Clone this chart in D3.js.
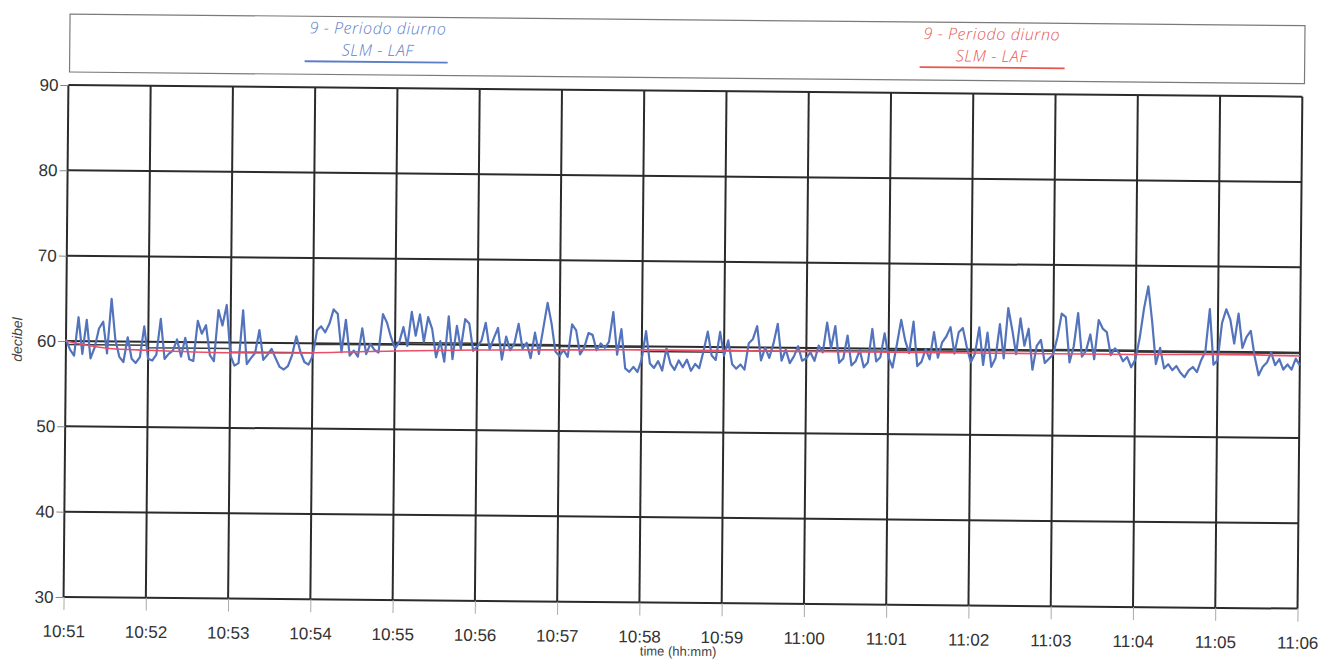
<!DOCTYPE html>
<html>
<head>
<meta charset="utf-8">
<script src="https://cdn.jsdelivr.net/npm/d3@7"></script>
<style>
  body { margin: 0; background: #fff; }
  svg { display: block; }
</style>
</head>
<body>
<script>
// SLM - LAF, one value every 3 s from 10:51:00 to 11:06:00 (one row per minute)
var blueLAF = [
  60.2, 59.0, 58.3, 62.8, 58.5, 62.5, 58.0, 59.3, 61.5, 62.3, 58.6, 65.0, 60.2, 58.2, 57.6, 60.5, 58.0, 57.5, 58.2, 61.8,
  58.0, 57.8, 58.5, 62.7, 58.0, 58.6, 59.0, 60.3, 58.3, 60.5, 58.0, 57.8, 62.5, 61.0, 62.0, 58.5, 57.8, 63.8, 62.0, 64.4,
  58.5, 57.3, 57.6, 63.8, 57.5, 58.2, 58.8, 61.5, 58.0, 58.6, 59.3, 58.2, 57.2, 56.9, 57.3, 58.6, 60.8, 59.0, 57.8, 57.5,
  58.5, 61.5, 62.0, 61.3, 62.3, 64.0, 63.5, 59.0, 62.8, 58.6, 59.2, 58.5, 61.8, 58.8, 60.0, 59.3, 59.0, 63.5, 62.5, 60.8,
  59.5, 60.2, 62.0, 59.8, 63.8, 61.0, 63.5, 60.3, 63.2, 61.8, 58.5, 60.4, 58.0, 63.3, 58.3, 62.2, 59.5, 63.0, 62.5, 59.3,
  59.8, 60.5, 62.6, 59.5, 60.8, 62.0, 58.3, 61.0, 59.4, 60.2, 62.5, 59.6, 60.3, 58.5, 61.5, 59.0, 62.0, 65.0, 62.6, 59.3,
  58.8, 59.5, 58.7, 62.5, 61.8, 59.0, 59.8, 61.5, 61.3, 59.5, 60.3, 59.8, 60.5, 64.0, 59.0, 62.0, 57.4, 57.0, 57.6, 57.0,
  58.5, 61.8, 58.0, 57.5, 58.3, 57.2, 59.8, 58.0, 57.3, 58.4, 57.6, 58.5, 57.2, 58.0, 57.5, 59.5, 61.8, 59.0, 58.5, 61.8,
  59.0, 60.8, 58.0, 57.5, 58.0, 57.4, 60.5, 61.0, 62.5, 58.5, 60.0, 58.8, 60.5, 62.8, 58.5, 59.8, 58.2, 59.0, 60.2, 58.5,
  58.8, 59.5, 58.5, 60.3, 59.5, 63.0, 60.0, 62.6, 58.3, 58.8, 61.5, 58.0, 58.5, 59.8, 57.8, 58.4, 62.3, 58.5, 59.0, 61.8,
  59.0, 57.8, 60.5, 63.4, 61.0, 59.5, 63.2, 58.0, 58.5, 60.0, 58.8, 62.0, 59.0, 60.8, 61.5, 62.6, 59.5, 62.0, 62.5, 60.3,
  58.5, 59.5, 62.6, 58.2, 62.0, 58.0, 59.0, 63.0, 59.0, 64.9, 62.4, 59.5, 63.7, 60.5, 62.5, 57.7, 60.5, 61.2, 58.5, 59.0,
  59.5, 61.5, 64.3, 63.9, 58.6, 60.5, 64.4, 59.3, 60.0, 61.9, 59.0, 63.6, 62.6, 62.2, 59.5, 60.3, 59.8, 58.8, 59.3, 58.1,
  59.0, 61.5, 65.0, 67.6, 63.5, 58.5, 60.4, 58.0, 58.5, 57.8, 58.3, 57.5, 57.0, 57.8, 58.2, 57.6, 59.0, 60.0, 65.0, 58.5,
  59.0, 63.4, 65.0, 63.8, 61.0, 64.5, 60.5, 61.8, 62.5, 59.5, 57.3, 58.3, 58.8, 60.0, 58.5, 59.2, 58.0, 58.6, 58.0, 59.3,
  58.5
];

// running level (red), minutes after 10:51
var redMinutes = [0, 0.5, 1, 2, 3, 4, 5, 6, 7, 8, 9, 10, 11, 12, 13, 14, 15];
var redLevel   = [60.0, 59.2, 59.0, 58.8, 58.9, 59.2, 59.4, 59.5, 59.6, 59.6, 59.6, 59.6, 59.6, 59.6, 59.6, 59.7, 59.6];

// per-minute level (black step), 10:51 ... 11:06
var blackLevel = [59.6, 59.3, 58.9, 59.9, 60.2, 60.1, 59.9, 59.4, 59.6, 59.7, 59.8, 59.9, 60.1, 59.9, 59.9, 59.9];

var yTicks = [30, 40, 50, 60, 70, 80, 90];
var legendTitle = '9 - Periodo diurno';
var legendSeries = 'SLM - LAF';

var start = new Date(2020, 0, 1, 10, 51, 0);
var end = new Date(2020, 0, 1, 11, 6, 0);

var x = d3.scaleTime().domain([start, end]).range([66, 1300]);
var y = d3.scaleLinear().domain([30, 90]).range([597, 85]);

var svg = d3.select('body')
    .append('svg')
    .attr('width', 1322)
    .attr('height', 663);

// the scan is slightly tilted
var g = svg.append('g')
    .attr('transform', 'rotate(0.54, 66, 340)');

// legend box
g.append('rect')
    .attr('x', 67).attr('y', 14)
    .attr('width', 1235).attr('height', 58)
    .attr('fill', 'none')
    .attr('stroke', '#7a7a7a')
    .attr('stroke-width', 1.2);

var legend = [
    {cx: 375, color: '#5b7cc6', x1: 302, x2: 445},
    {cx: 989, color: '#e8574f', x1: 917, x2: 1062}
];
legend.forEach(function(l) {
    [[legendTitle, 31], [legendSeries, 53]].forEach(function(t) {
        g.append('text')
            .attr('x', l.cx).attr('y', t[1])
            .attr('font-family', 'Open Sans')
            .attr('font-style', 'italic')
            .attr('font-weight', 300)
            .attr('font-size', 16)
            .attr('letter-spacing', 0.6)
            .attr('fill', l.color)
            .style('text-anchor', 'middle')
            .text(t[0]);
    });
    g.append('line')
        .attr('x1', l.x1).attr('x2', l.x2)
        .attr('y1', 59).attr('y2', 59)
        .attr('stroke', l.color)
        .attr('stroke-width', 1.8);
});

// grid
var minutes = d3.timeMinute.range(start, d3.timeMinute.offset(end, 1));
g.append('g').selectAll('line')
    .data(minutes)
    .join('line')
    .attr('x1', function(d) { return x(d); })
    .attr('x2', function(d) { return x(d); })
    .attr('y1', y(90)).attr('y2', y(30))
    .attr('stroke', '#2b2b2b')
    .attr('stroke-width', 2);
g.append('g').selectAll('line')
    .data(yTicks)
    .join('line')
    .attr('x1', x(start)).attr('x2', x(end))
    .attr('y1', function(d) { return y(d); })
    .attr('y2', function(d) { return y(d); })
    .attr('stroke', '#2b2b2b')
    .attr('stroke-width', 2);

// axes
var yAxis = g.append('g')
    .attr('transform', 'translate(66,0)')
    .call(d3.axisLeft(y).tickValues(yTicks).tickSize(8).tickPadding(2));
var xAxis = g.append('g')
    .attr('transform', 'translate(0,597)')
    .call(d3.axisBottom(x)
        .ticks(d3.timeMinute.every(1))
        .tickFormat(d3.timeFormat('%H:%M'))
        .tickSize(13).tickPadding(15));
[yAxis, xAxis].forEach(function(a) {
    a.select('.domain').remove();
    a.selectAll('text')
        .attr('font-family', 'Liberation Sans')
        .attr('font-size', 17)
        .attr('fill', '#333');
});
yAxis.selectAll('.tick line').attr('stroke', '#888');
xAxis.selectAll('.tick line').attr('stroke', '#aaa');

// series
var blueLine = d3.line()
    .x(function(d, i) { return x(new Date(start.getTime() + i * 3000)); })
    .y(function(d) { return y(d); });

var blackLine = d3.line()
    .x(function(d, i) { return x(d3.timeMinute.offset(start, i)); })
    .y(function(d) { return y(d); })
    .curve(d3.curveStepAfter);

var redLine = d3.line()
    .x(function(d, i) { return x(new Date(start.getTime() + redMinutes[i] * 60000)); })
    .y(function(d) { return y(d); })
    .curve(d3.curveMonotoneX);

g.append('path')
    .attr('d', blackLine(blackLevel))
    .attr('fill', 'none')
    .attr('stroke', '#3a3a3a')
    .attr('stroke-width', 1.5);

g.append('path')
    .attr('d', blueLine(blueLAF))
    .attr('fill', 'none')
    .attr('stroke', '#5373bd')
    .attr('stroke-width', 2.2)
    .attr('stroke-linejoin', 'round');

g.append('path')
    .attr('d', redLine(redLevel))
    .attr('fill', 'none')
    .attr('stroke', '#e8506a')
    .attr('stroke-width', 1.6);

// axis titles
g.append('text')
    .attr('transform', 'translate(22,340) rotate(-90)')
    .attr('font-family', 'Liberation Sans')
    .attr('font-style', 'italic')
    .attr('font-size', 14)
    .attr('fill', '#444')
    .style('text-anchor', 'middle')
    .text('decibel');

g.append('text')
    .attr('x', 681).attr('y', 650)
    .attr('font-family', 'Liberation Sans')
    .attr('font-size', 13)
    .attr('fill', '#444')
    .style('text-anchor', 'middle')
    .text('time (hh:mm)');
</script>
</body>
</html>
